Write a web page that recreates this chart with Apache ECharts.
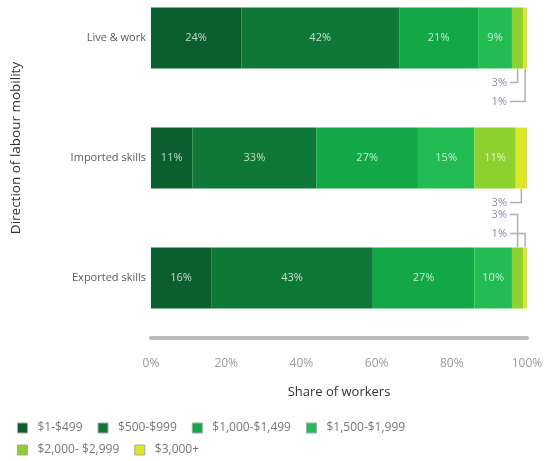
<!DOCTYPE html>
<html>
<head>
<meta charset="utf-8">
<script src="https://cdn.jsdelivr.net/npm/echarts@6/dist/echarts.min.js"></script>
<style>
  html, body { margin: 0; padding: 0; background: #fff; }
  #chart { width: 549px; height: 461px; }
</style>
</head>
<body>
<div id="chart"></div>
<script>
// Direction of labour mobility, top to bottom
const categories = ['Live & work', 'Imported skills', 'Exported skills'];

// Monthly income bands
const incomeBands = ['$1-$499', '$500-$999', '$1,000-$1,499', '$1,500-$1,999', '$2,000- $2,999', '$3,000+'];

// Share of workers (%) in each band, one value per category
const band1 = [24, 11, 16];
const band2 = [42, 33, 43];
const band3 = [21, 27, 27];
const band4 = [9, 15, 10];
const band5 = [3, 11, 3];
const band6 = [1, 3, 1];

const xTicks = [0, 20, 40, 60, 80, 100];

const bandValues = [band1, band2, band3, band4, band5, band6];
const bandColors = ['#0b5e2d', '#0f7838', '#12a847', '#22bc52', '#8dd12e', '#dbe726'];

// Segments too thin for an inside label get a callout with a bracket line
const SMALL = 5;
const callouts = [];
categories.forEach((cat, ci) => {
  let start = 0;
  const small = [];
  bandValues.forEach(vals => {
    const v = vals[ci];
    if (v < SMALL) small.push([start, v]);
    start += v;
  });
  const dir = ci === categories.length - 1 ? -1 : 1;   // last bar: callouts above
  const ordered = dir === 1 ? small : small.slice().reverse();
  ordered.forEach((s, slot) => callouts.push([s[0], ci, s[1], slot, dir]));
});

const chart = echarts.init(document.getElementById('chart'), null, { renderer: 'canvas' });
const FONT = '"Open Sans", "Noto Sans", sans-serif';
const BAR_W = 61;

const barSeries = incomeBands.map((name, i) => ({
  name,
  type: 'bar',
  stack: 'share',
  barWidth: BAR_W,
  clip: false,
  data: bandValues[i],
  itemStyle: { color: bandColors[i] },
  label: {
    show: true,
    position: 'inside',
    formatter: p => (p.value >= SMALL ? p.value + '%' : ''),
    color: 'rgba(255,255,255,0.75)',
    fontFamily: FONT,
    fontSize: 11
  }
}));

const calloutSeries = {
  type: 'custom',
  clip: false,
  silent: true,
  encode: { x: 0, y: 1 },
  data: callouts,
  renderItem: (params, api) => {
    const start = api.value(0), cat = api.value(1), val = api.value(2);
    const slot = api.value(3), dir = api.value(4);
    const pt = api.coord([start + val / 2, cat]);
    const edgeY = pt[1] + dir * (BAR_W / 2);
    const labelY = edgeY + dir * (14 + slot * 19);
    const textRight = api.coord([100, cat])[0] - 20;
    return {
      type: 'group',
      children: [
        {
          type: 'polyline',
          shape: { points: [[pt[0], edgeY], [pt[0], labelY], [textRight + 3, labelY]] },
          style: { stroke: '#b0b0b0', lineWidth: 1.5, fill: null }
        },
        {
          type: 'text',
          x: textRight,
          y: labelY,
          style: {
            text: val + '%',
            fill: '#9088ad',
            font: '11px ' + FONT,
            textAlign: 'right',
            textVerticalAlign: 'middle'
          }
        }
      ]
    };
  }
};

const legendCommon = {
  orient: 'horizontal',
  left: 12,
  icon: 'rect',
  itemWidth: 10,
  itemHeight: 10,
  itemGap: 15,
  itemStyle: { borderColor: '#a8a8a8', borderWidth: 1 },
  textStyle: { color: '#777', fontFamily: FONT, fontSize: 12, padding: [0, 0, 0, 5] }
};

chart.setOption({
  animation: false,
  textStyle: { fontFamily: FONT },
  grid: { left: 151, right: 22, top: 38, bottom: 183, containLabel: false },
  legend: [
    Object.assign({ top: 417, data: incomeBands.slice(0, 4) }, legendCommon),
    Object.assign({ top: 439, data: incomeBands.slice(4) }, legendCommon)
  ],
  xAxis: {
    type: 'value',
    min: xTicks[0],
    max: xTicks[xTicks.length - 1],
    interval: xTicks[1] - xTicks[0],
    offset: 60,
    axisLine: { show: true, lineStyle: { color: '#bcbcbc', width: 4, cap: 'round' } },
    axisTick: { show: false },
    splitLine: { show: false },
    axisLabel: { formatter: '{value}%', color: '#9a9a9a', fontSize: 12, margin: 20 },
    name: 'Share of workers',
    nameLocation: 'middle',
    nameGap: 48,
    nameTextStyle: { color: '#333', fontSize: 13 }
  },
  yAxis: {
    type: 'category',
    data: categories,
    inverse: true,
    boundaryGap: false,
    axisLine: { show: false },
    axisTick: { show: false },
    splitLine: { show: false },
    axisLabel: { color: '#5a5a5a', fontSize: 11, margin: 5 },
    name: 'Direction of labour mobility',
    nameLocation: 'middle',
    nameGap: 128,
    nameTextStyle: { color: '#333', fontSize: 13.5, padding: [0, 0, 0, 20] }
  },
  series: barSeries.concat([calloutSeries])
});
</script>
</body>
</html>
